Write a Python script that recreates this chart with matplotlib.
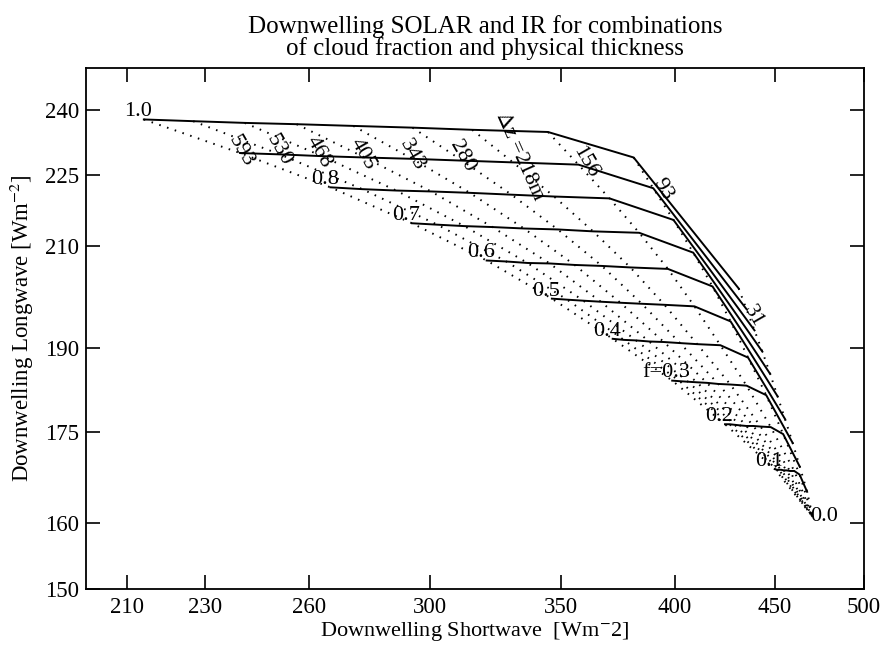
import numpy as np
import matplotlib
matplotlib.use("Agg")
import matplotlib.pyplot as plt
from matplotlib.ticker import NullLocator

plt.rcParams['font.family'] = ['Liberation Serif', 'DejaVu Serif']
plt.rcParams['mathtext.fontset'] = 'stix'

## cloud fractions (one solid line each) and cloud thickness (one dotted line each)
fractions = [1.0, 0.9, 0.8, 0.7, 0.6, 0.5, 0.4, 0.3, 0.2, 0.1]
frac_labels = ['1.0', '', '0.8', '0.7', '0.6', '0.5', '0.4', 'f=0.3', '0.2', '0.1']
dz = [593, 530, 468, 405, 343, 280, 218, 156, 93, 31]
dz_labels = ['593', '530', '468', '405', '343', '280', r'$\Delta$z =218m', '156', '93', '31']

## downwelling shortwave [W m-2], rows = fraction, cols = thickness
sw = np.array([
    [214.1, 226.9, 241.1, 256.3, 274.0, 293.8, 315.2, 344.6, 381.2, 431.4],
    [239.8, 251.3, 264.1, 277.7, 293.7, 311.5, 330.7, 357.2, 390.1, 435.3],
    [266.7, 276.9, 288.2, 300.3, 314.3, 330.1, 347.1, 370.5, 399.5, 439.5],
    [293.6, 302.5, 312.3, 322.8, 335.0, 348.6, 363.4, 383.7, 408.9, 443.6],
    [320.6, 328.1, 336.4, 345.3, 355.6, 367.2, 379.7, 396.9, 418.3, 447.7],
    [346.2, 352.5, 359.3, 366.7, 375.3, 384.9, 395.3, 409.5, 427.3, 451.6],
    [371.9, 376.8, 382.3, 388.2, 395.0, 402.6, 410.8, 422.2, 436.2, 455.6],
    [398.9, 402.4, 406.4, 410.7, 415.6, 421.2, 427.2, 435.4, 445.6, 459.7],
    [424.5, 426.8, 429.4, 432.1, 435.3, 438.9, 442.7, 448.0, 454.6, 463.6],
    [450.2, 451.2, 452.3, 453.5, 455.0, 456.5, 458.3, 460.6, 463.5, 467.6],
])
## downwelling longwave [W m-2]
lw = np.array([
    [237.7, 237.3, 236.9, 236.6, 236.2, 235.8, 235.3, 234.8, 229.0, 201.4],
    [230.0, 229.7, 229.3, 229.0, 228.7, 228.3, 227.9, 227.4, 222.2, 197.4],
    [222.4, 222.0, 221.7, 221.5, 221.2, 220.8, 220.4, 220.0, 215.4, 193.3],
    [214.7, 214.4, 214.1, 213.9, 213.6, 213.4, 213.0, 212.7, 208.6, 189.3],
    [207.0, 206.8, 206.5, 206.4, 206.1, 205.9, 205.6, 205.3, 201.8, 185.2],
    [199.4, 199.2, 199.0, 198.8, 198.6, 198.4, 198.2, 197.9, 195.0, 181.2],
    [191.7, 191.5, 191.4, 191.2, 191.1, 190.9, 190.7, 190.5, 188.2, 177.2],
    [184.0, 183.9, 183.8, 183.7, 183.6, 183.4, 183.3, 183.1, 181.4, 173.1],
    [176.3, 176.3, 176.2, 176.1, 176.0, 176.0, 175.9, 175.8, 174.6, 169.1],
    [168.7, 168.6, 168.6, 168.6, 168.5, 168.5, 168.4, 168.4, 167.8, 165.0],
])
## clear sky (f = 0.0)
sw_clear = 470.7
lw_clear = 161.0

xticks = [210, 230, 260, 300, 350, 400, 450, 500]
yticks = [150, 160, 175, 190, 210, 225, 240]

## label nudges (points)
dz_offsets = [(0.7, 1.2), (-0.7, 2.9), (-2.2, 2.9), (-1.4, 2.5), (0, 2.5),
              (0, 3.2), (5, 4.1), (5, 1.8), (7, -1.1), (5, -5)]
dz_rot = [-60, -60, -60, -60, -60, -60, -66, -60, -60, -60]

fig = plt.figure(figsize=(8.82, 6.46), dpi=100)
ax = fig.add_axes([86/882, 57/646, 778/882, 521/646])
ax.set_xscale('log')
ax.set_yscale('log')

## solid lines: constant cloud fraction
for i in range(len(fractions)):
    ax.plot(sw[i], lw[i], color='k', lw=1.4, solid_joinstyle='miter')

## dotted lines: constant thickness, running to the clear-sky point
for j in range(len(dz)):
    xs = np.append(sw[:, j], sw_clear)
    ys = np.append(lw[:, j], lw_clear)
    ax.plot(xs, ys, color='k', lw=1.4, linestyle=(0, (0.8, 3.4)))

for i, lab in enumerate(frac_labels):
    if lab:
        ax.annotate(lab, (sw[i, 0], lw[i, 0]), xytext=(-4, 5.5),
                    textcoords='offset points', ha='center', va='center',
                    fontsize=16)
ax.annotate('0.0', (sw_clear, lw_clear), xytext=(8, 0),
            textcoords='offset points', ha='center', va='center', fontsize=16)

for j, lab in enumerate(dz_labels):
    ax.annotate(lab, (sw[1, j], lw[1, j]), xytext=dz_offsets[j],
                textcoords='offset points', ha='center', va='center',
                rotation=dz_rot[j], rotation_mode='anchor', fontsize=16)

ax.set_xlim(200, 500)
ax.set_ylim(150, 250)
ax.set_xticks(xticks)
ax.set_xticklabels([str(v) for v in xticks])
ax.set_yticks(yticks)
ax.set_yticklabels([str(v) for v in yticks])
ax.xaxis.set_minor_locator(NullLocator())
ax.yaxis.set_minor_locator(NullLocator())
ax.tick_params(which='major', direction='in', top=True, right=True,
               length=10, width=1.2, labelsize=16.5)
ax.tick_params(axis='x', pad=6)
ax.tick_params(axis='y', pad=5)
for s in ax.spines.values():
    s.set_linewidth(1.3)

ax.set_xlabel(r'Downwelling Shortwave  [Wm$^{-}$2]', fontsize=16)
ax.xaxis.set_label_coords(0.5, -0.06)
ax.set_ylabel(r'Downwelling Longwave [Wm$^{-2}$]', fontsize=16.5, labelpad=6)

fig.text(485/882, 1 - 15/646,
         'Downwelling SOLAR and IR for combinations\nof cloud fraction and physical thickness',
         ha='center', va='top', fontsize=18, linespacing=0.95)

fig.savefig('out.png', dpi=100)
